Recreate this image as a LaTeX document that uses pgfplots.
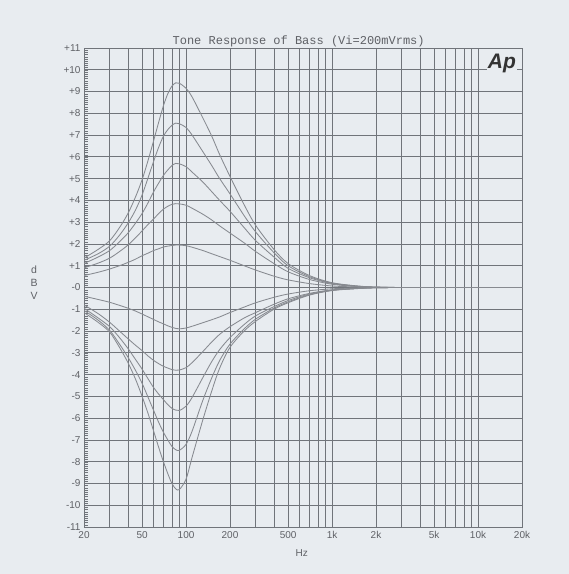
\documentclass[border=0pt]{standalone}
\usepackage{pgfplots}
\pgfplotsset{compat=1.18}
\usepackage{fontspec}
\setmainfont{Liberation Sans}
\newfontfamily\monof{Liberation Mono}
\definecolor{bgc}{RGB}{232,236,240}
\definecolor{gridc}{RGB}{112,116,122}
\definecolor{curvec}{RGB}{135,138,144}
\definecolor{txtc}{RGB}{95,97,102}
\begin{document}
\begin{tikzpicture}
\fill[bgc] (0,0) rectangle (569pt,574pt);
\useasboundingbox (0,0) rectangle (569pt,574pt);
\begin{axis}[
  at={(84pt,47pt)}, anchor=south west,
  scale only axis, width=438pt, height=479pt,
  xmode=log, log basis x=10,
  xmin=20, xmax=20000, ymin=-11, ymax=11,
  axis line style={gridc, line width=0.8pt},
  xtick={20,50,100,200,500,1000,2000,5000,10000,20000},
  xticklabels={20,50,100,200,500,1k,2k,5k,10k,20k},
  minor xtick={30,40,60,70,80,90,300,400,600,700,800,900,3000,4000,6000,7000,8000,9000},
  ytick={-11,-10,...,11},
  yticklabels={-11,-10,-9,-8,-7,-6,-5,-4,-3,-2,-1,-0,+1,+2,+3,+4,+5,+6,+7,+8,+9,+10,+11},
  minor y tick num=9,
  xmajorgrids, xminorgrids, ymajorgrids,
  major grid style={gridc, line width=0.75pt},
  minor grid style={gridc, line width=0.75pt},
  x tick style={draw=none},
  y tick style={gridc, line width=0.3pt},
  ytick pos=left, tick align=inside,
  major tick length=4pt, minor tick length=4pt,
  tick label style={font=\fontsize{10}{11}\selectfont, text=txtc},
  xticklabel style={yshift=-1pt},
  xlabel={Hz},
  xlabel style={at={(axis description cs:0.497,-0.054)}, anchor=center, font=\fontsize{10}{11}\selectfont, text=txtc},
  ylabel={d\\B\\V},
  ylabel style={rotate=-90, align=center, at={(axis description cs:-0.114,0.51)}, anchor=center, font=\fontsize{10.5}{13}\selectfont, text=txtc},
  title={\monof Tone Response of Bass (Vi=200mVrms)},
  title style={at={(axis description cs:0.49,1)}, anchor=base, yshift=-3pt, inner sep=0pt, font=\fontsize{12}{12}\selectfont, text=txtc},
  every axis plot post/.append style={draw=curvec, line width=0.85pt, smooth, mark=none, solid},
  clip=true,
]
% boost curves
\addplot coordinates {(20,1.35)(25,1.75)(30,2.15)(35,2.75)(40,3.4)(45,4.15)(50,4.95)(55,5.85)(60,6.75)(65,7.6)(70,8.35)(75,8.9)(80,9.25)(85,9.4)(90,9.38)(100,9.15)(110,8.75)(130,7.8)(150,6.95)(170,6.1)(200,5.1)(250,3.8)(300,2.85)(400,1.75)(500,1.1)(700,0.55)(1000,0.22)(1500,0.07)(2000,0.02)(3000,0)(5000,0)(20000,0)};
\addplot coordinates {(20,1.25)(25,1.55)(30,1.9)(35,2.4)(40,2.95)(45,3.55)(50,4.25)(55,5.05)(60,5.8)(65,6.45)(70,6.95)(75,7.25)(80,7.45)(85,7.55)(90,7.52)(100,7.35)(110,7.0)(130,6.25)(150,5.6)(170,5.0)(200,4.3)(250,3.3)(300,2.55)(400,1.6)(500,1.0)(700,0.5)(1000,0.2)(1500,0.06)(2000,0.02)(3000,0)(5000,0)(20000,0)};
\addplot coordinates {(20,1.1)(25,1.4)(30,1.7)(35,2.1)(40,2.5)(45,2.95)(50,3.4)(55,3.9)(60,4.4)(65,4.8)(70,5.15)(75,5.4)(80,5.6)(85,5.7)(90,5.68)(100,5.55)(110,5.3)(130,4.85)(150,4.4)(170,4.0)(200,3.5)(250,2.75)(300,2.15)(400,1.4)(500,0.88)(700,0.45)(1000,0.18)(1500,0.05)(2000,0.01)(3000,0)(5000,0)(20000,0)};
\addplot coordinates {(20,0.9)(25,1.12)(30,1.35)(35,1.65)(40,1.95)(45,2.28)(50,2.6)(55,2.9)(60,3.15)(65,3.4)(70,3.6)(75,3.73)(80,3.82)(85,3.85)(90,3.84)(100,3.78)(110,3.64)(130,3.37)(150,3.1)(170,2.83)(200,2.5)(250,2.05)(300,1.65)(400,1.1)(500,0.72)(700,0.37)(1000,0.15)(1500,0.04)(2000,0.01)(3000,0)(5000,0)(20000,0)};
\addplot coordinates {(20,0.55)(25,0.7)(30,0.85)(35,1.0)(40,1.15)(45,1.3)(50,1.46)(55,1.58)(60,1.7)(65,1.78)(70,1.86)(75,1.9)(80,1.93)(85,1.95)(90,1.95)(100,1.92)(110,1.85)(130,1.7)(150,1.55)(170,1.42)(200,1.25)(250,1.0)(300,0.8)(400,0.52)(500,0.35)(700,0.18)(1000,0.07)(1500,0.02)(2000,0)(3000,0)(5000,0)(20000,0)};
% cut curves
\addplot coordinates {(20,-0.4)(25,-0.55)(30,-0.68)(35,-0.82)(40,-0.95)(45,-1.08)(50,-1.22)(55,-1.35)(60,-1.47)(65,-1.58)(70,-1.67)(75,-1.76)(80,-1.83)(85,-1.88)(90,-1.9)(100,-1.86)(110,-1.78)(130,-1.62)(150,-1.48)(170,-1.35)(200,-1.15)(250,-0.9)(300,-0.7)(400,-0.45)(500,-0.3)(700,-0.15)(1000,-0.06)(1500,-0.02)(2000,0)(3000,0)(5000,0)(20000,0)};
\addplot coordinates {(20,-0.8)(25,-1.2)(30,-1.6)(35,-2.0)(40,-2.35)(45,-2.65)(50,-2.9)(55,-3.15)(60,-3.35)(65,-3.5)(70,-3.62)(75,-3.7)(80,-3.77)(85,-3.8)(90,-3.79)(100,-3.68)(110,-3.45)(130,-2.95)(150,-2.5)(170,-2.15)(200,-1.8)(250,-1.4)(300,-1.15)(400,-0.77)(500,-0.52)(700,-0.27)(1000,-0.11)(1500,-0.04)(2000,-0.01)(3000,0)(5000,0)(20000,0)};
\addplot coordinates {(20,-0.95)(25,-1.4)(30,-1.8)(35,-2.3)(40,-2.8)(45,-3.3)(50,-3.75)(55,-4.2)(60,-4.6)(65,-4.9)(70,-5.15)(75,-5.38)(80,-5.55)(85,-5.63)(90,-5.65)(100,-5.45)(110,-5.05)(130,-4.15)(150,-3.4)(170,-2.85)(200,-2.3)(250,-1.7)(300,-1.3)(400,-0.88)(500,-0.6)(700,-0.3)(1000,-0.12)(1500,-0.04)(2000,-0.01)(3000,0)(5000,0)(20000,0)};
\addplot coordinates {(20,-1.05)(25,-1.5)(30,-1.97)(35,-2.6)(40,-3.2)(45,-3.8)(50,-4.4)(55,-5.05)(60,-5.65)(65,-6.2)(70,-6.65)(75,-7.0)(80,-7.3)(85,-7.45)(90,-7.48)(100,-7.2)(110,-6.6)(130,-5.2)(150,-4.15)(170,-3.35)(200,-2.6)(250,-1.9)(300,-1.45)(400,-0.95)(500,-0.66)(700,-0.33)(1000,-0.13)(1500,-0.04)(2000,-0.01)(3000,0)(5000,0)(20000,0)};
\addplot coordinates {(20,-1.15)(25,-1.6)(30,-2.05)(35,-2.75)(40,-3.45)(45,-4.2)(50,-5.0)(55,-5.8)(60,-6.6)(65,-7.35)(70,-8.0)(75,-8.55)(80,-9.0)(85,-9.25)(90,-9.28)(100,-8.8)(110,-7.8)(130,-6.1)(150,-4.75)(170,-3.7)(200,-2.75)(250,-2.0)(300,-1.55)(400,-1.0)(500,-0.7)(700,-0.35)(1000,-0.14)(1500,-0.05)(2000,-0.01)(3000,0)(5000,0)(20000,0)};
\node[font=\fontsize{21}{21}\selectfont\bfseries\itshape, text={black!80}, fill=bgc, inner sep=1pt] at (rel axis cs:0.954,0.968) {Ap};
\end{axis}
\end{tikzpicture}
\end{document}
